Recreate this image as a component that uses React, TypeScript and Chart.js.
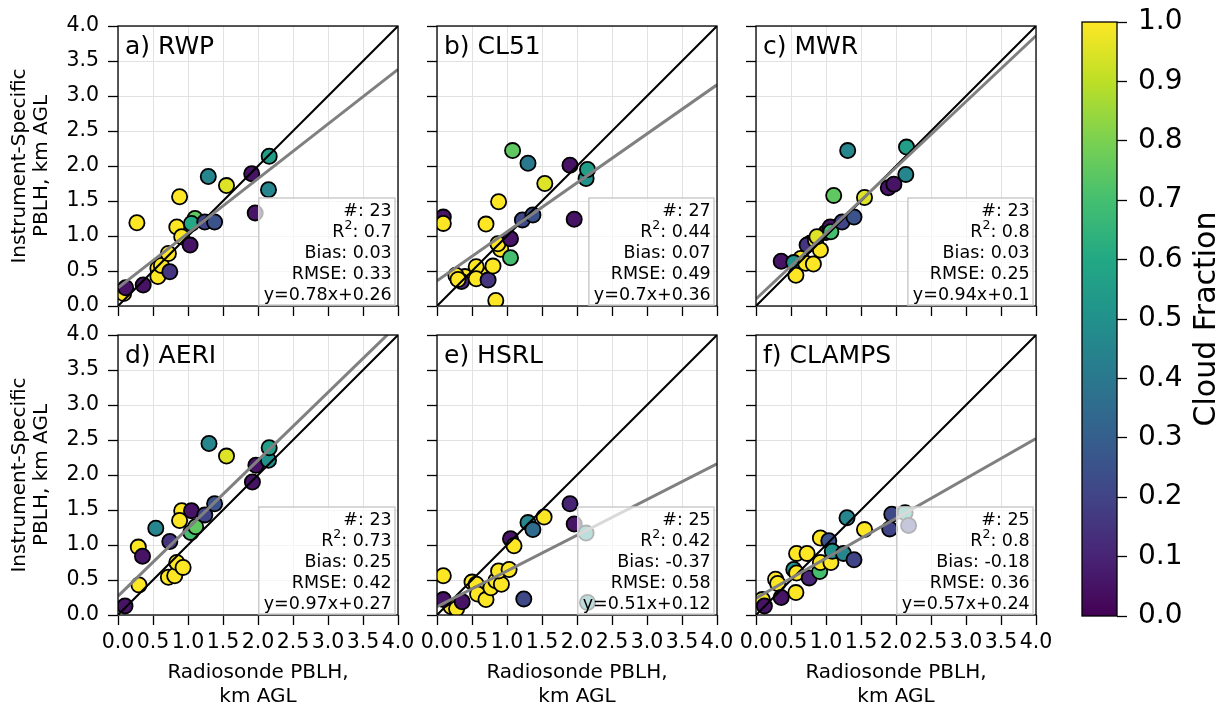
import React, { useEffect, useRef } from 'react';
import { Chart, registerables } from 'chart.js';

Chart.register(...registerables);

const FONT = '"DejaVu Sans", "Liberation Sans", sans-serif';

// ---------------- data ----------------
const panelLabels = ['a) RWP', 'b) CL51', 'c) MWR', 'd) AERI', 'e) HSRL', 'f) CLAMPS'];

const rwpX = [0.08, 0.11, 0.36, 0.27, 0.57, 0.57, 0.62, 0.74, 0.72, 0.88, 0.84, 0.91, 1.03, 1.10, 1.05, 1.24, 1.38, 1.29, 1.55, 1.91, 1.96, 2.16, 2.15];
const rwpY = [0.18, 0.26, 0.30, 1.19, 0.54, 0.42, 0.58, 0.49, 0.75, 1.56, 1.13, 0.99, 0.87, 1.25, 1.18, 1.20, 1.20, 1.85, 1.72, 1.89, 1.33, 2.14, 1.66];
const rwpCF = [1.0, 0.05, 0.05, 1.0, 1.0, 1.0, 1.0, 0.15, 1.0, 1.0, 1.0, 1.0, 0.05, 0.75, 0.6, 0.2, 0.25, 0.45, 0.95, 0.05, 0.05, 0.55, 0.45];

const cl51X = [0.62, 0.40, 0.09, 0.09, 0.27, 0.35, 0.30, 0.56, 0.56, 0.73, 0.70, 0.80, 0.84, 0.88, 0.91, 0.87, 1.05, 1.05, 1.08, 1.30, 1.22, 1.37, 1.54, 1.90, 1.96, 2.13, 2.15];
const cl51Y = [0.45, 0.42, 1.27, 1.18, 0.44, 0.35, 0.38, 0.56, 0.39, 0.37, 1.17, 0.57, 0.08, 1.49, 0.81, 0.89, 0.96, 0.69, 2.22, 2.04, 1.23, 1.30, 1.75, 2.01, 1.24, 1.82, 1.95];
const cl51CF = [1.0, 1.0, 0.05, 1.0, 1.0, 0.1, 1.0, 1.0, 1.0, 0.15, 1.0, 1.0, 1.0, 1.0, 1.0, 1.0, 0.05, 0.7, 0.75, 0.4, 0.22, 0.25, 0.95, 0.05, 0.05, 0.5, 0.55];

const mwrX = [0.64, 0.78, 1.00, 0.36, 0.54, 0.57, 0.71, 0.73, 0.82, 0.85, 0.92, 0.87, 1.06, 1.07, 1.11, 1.23, 1.40, 1.31, 1.55, 1.89, 1.97, 2.14, 2.15];
const mwrY = [0.68, 0.90, 1.05, 0.64, 0.62, 0.44, 0.61, 0.87, 0.60, 0.94, 0.80, 0.99, 1.13, 1.06, 1.58, 1.20, 1.27, 2.22, 1.55, 1.69, 1.74, 1.88, 2.27];
const mwrCF = [1.0, 1.0, 0.05, 0.05, 0.5, 1.0, 1.0, 0.15, 1.0, 1.0, 1.0, 0.95, 0.05, 0.7, 0.75, 0.2, 0.25, 0.45, 0.95, 0.05, 0.05, 0.45, 0.55];

const aeriX = [0.10, 0.29, 0.35, 0.30, 0.54, 0.74, 0.72, 0.81, 0.84, 0.93, 0.91, 0.88, 1.05, 1.04, 1.11, 1.24, 1.38, 1.30, 1.55, 1.92, 1.97, 2.15, 2.16];
const aeriY = [0.13, 0.97, 0.84, 0.43, 1.24, 1.05, 0.54, 0.56, 0.75, 0.68, 1.49, 1.35, 1.49, 1.18, 1.26, 1.43, 1.59, 2.45, 2.27, 1.90, 2.14, 2.21, 2.39];
const aeriCF = [0.05, 1.0, 0.05, 1.0, 0.45, 0.15, 1.0, 1.0, 1.0, 1.0, 1.0, 1.0, 0.05, 0.7, 0.75, 0.2, 0.25, 0.45, 0.95, 0.05, 0.05, 0.5, 0.55];

const hsrlX = [0.62, 0.50, 0.20, 0.09, 0.09, 0.28, 0.36, 0.56, 0.58, 0.70, 0.77, 0.84, 0.92, 0.88, 1.03, 1.05, 1.10, 1.24, 1.30, 1.37, 1.53, 1.90, 1.96, 2.13, 2.15];
const hsrlY = [0.35, 0.47, 0.12, 0.56, 0.22, 0.09, 0.19, 0.44, 0.30, 0.22, 0.39, 0.49, 0.44, 0.63, 0.65, 1.09, 0.99, 0.23, 1.32, 1.22, 1.40, 1.59, 1.30, 1.17, 0.18];
const hsrlCF = [1.0, 1.0, 1.0, 1.0, 0.05, 1.0, 0.05, 1.0, 1.0, 1.0, 1.0, 1.0, 1.0, 1.0, 1.0, 0.05, 1.0, 0.22, 0.45, 0.35, 1.0, 0.1, 0.05, 0.5, 0.5];

const clampsX = [0.09, 0.12, 0.28, 0.31, 0.36, 0.54, 0.58, 0.58, 0.57, 0.73, 0.76, 0.91, 0.92, 0.92, 1.07, 1.04, 1.09, 1.25, 1.40, 1.30, 1.55, 1.91, 1.94, 2.13, 2.18];
const clampsY = [0.22, 0.13, 0.51, 0.45, 0.25, 0.65, 0.60, 0.88, 0.32, 0.88, 0.53, 0.62, 1.10, 0.75, 0.75, 1.06, 0.91, 0.88, 0.79, 1.39, 1.22, 1.23, 1.44, 1.46, 1.28];
const clampsCF = [1.0, 0.05, 1.0, 1.0, 0.05, 0.5, 1.0, 1.0, 1.0, 1.0, 0.1, 0.7, 1.0, 1.0, 1.0, 0.25, 0.5, 0.45, 0.2, 0.45, 1.0, 0.2, 0.22, 0.55, 0.2];

const counts = [23, 27, 23, 23, 25, 25];
const r2Values = ['0.7', '0.44', '0.8', '0.73', '0.42', '0.8'];
const biasValues = ['0.03', '0.07', '0.03', '0.25', '-0.37', '-0.18'];
const rmseValues = ['0.33', '0.49', '0.25', '0.42', '0.58', '0.36'];
const slopes = [0.78, 0.7, 0.94, 0.97, 0.51, 0.57];
const intercepts = [0.26, 0.36, 0.1, 0.27, 0.12, 0.24];

const axisMin = 0;
const axisMax = 4;
const axisStep = 0.5;
const cbMin = 0;
const cbMax = 1;
const cbStep = 0.1;

const xTitle = ['Radiosonde PBLH,', 'km AGL'];
const yTitle = ['Instrument-Specific', 'PBLH, km AGL'];
const cbTitle = 'Cloud Fraction';

const viridisStops = ['#440154', '#482475', '#414487', '#355f8d', '#2a788e', '#21918c', '#22a884', '#44bf70', '#7ad151', '#bddf26', '#fde725'];

const panelX = [rwpX, cl51X, mwrX, aeriX, hsrlX, clampsX];
const panelY = [rwpY, cl51Y, mwrY, aeriY, hsrlY, clampsY];
const panelCF = [rwpCF, cl51CF, mwrCF, aeriCF, hsrlCF, clampsCF];

// ---------------- layout ----------------
const PANEL_LEFTS = [118, 437, 756];
const PANEL_TOPS = [26, 335];
const PANEL = 280;
const YAXIS_W = 118;
const XAXIS_H = 100;
const PAD_TOP = 16;
const PAD_RIGHT = 30;
const CANVAS_W = YAXIS_W + PANEL + PAD_RIGHT;
const CANVAS_H = PAD_TOP + PANEL + XAXIS_H;

function hexToRgb(h: string) {
  return [parseInt(h.slice(1, 3), 16), parseInt(h.slice(3, 5), 16), parseInt(h.slice(5, 7), 16)];
}

function viridis(t: number) {
  const s = Math.max(0, Math.min(1, t)) * 10;
  const i = Math.min(9, Math.floor(s));
  const f = s - i;
  const a = hexToRgb(viridisStops[i]);
  const b = hexToRgb(viridisStops[i + 1]);
  const c = a.map((v, k) => Math.round(v + (b[k] - v) * f));
  return `rgb(${c[0]},${c[1]},${c[2]})`;
}

function drawStats(ctx: CanvasRenderingContext2D, area: any, idx: number) {
  const mainFont = `17.5px ${FONT}`;
  const supFont = `12.5px ${FONT}`;
  ctx.save();
  ctx.font = mainFont;
  const l0 = `#: ${counts[idx]}`;
  const l2 = `Bias: ${biasValues[idx]}`;
  const l3 = `RMSE: ${rmseValues[idx]}`;
  const l4 = `y=${slopes[idx]}x+${intercepts[idx]}`;
  const r2tail = `: ${r2Values[idx]}`;
  const wR = ctx.measureText('R').width;
  const wTail = ctx.measureText(r2tail).width;
  ctx.font = supFont;
  const wSup = ctx.measureText('2').width;
  ctx.font = mainFont;
  const wR2 = wR + wSup + wTail;
  const widths = [ctx.measureText(l0).width, wR2, ctx.measureText(l2).width, ctx.measureText(l3).width, ctx.measureText(l4).width];
  const maxW = Math.max(...widths);
  const textRight = area.right - 6.3;
  const boxRight = area.right - 3;
  const boxLeft = textRight - maxW - 5;
  const boxBottom = area.bottom - 1;
  const boxTop = area.bottom - 108;
  ctx.fillStyle = 'rgba(255,255,255,0.7)';
  ctx.fillRect(boxLeft, boxTop, boxRight - boxLeft, boxBottom - boxTop);
  ctx.strokeStyle = '#cccccc';
  ctx.lineWidth = 1.5;
  ctx.strokeRect(boxLeft, boxTop, boxRight - boxLeft, boxBottom - boxTop);

  ctx.fillStyle = '#000';
  ctx.textBaseline = 'middle';
  const centers = [95, 74, 53, 32, 11].map((d) => area.bottom - d);
  ctx.textAlign = 'right';
  ctx.fillText(l0, textRight, centers[0]);
  ctx.fillText(l2, textRight, centers[2]);
  ctx.fillText(l3, textRight, centers[3]);
  ctx.fillText(l4, textRight, centers[4]);
  // R^2 line
  ctx.textAlign = 'left';
  let x = textRight - wR2;
  ctx.fillText('R', x, centers[1]);
  x += wR;
  ctx.font = supFont;
  ctx.fillText('2', x, centers[1] - 6);
  x += wSup;
  ctx.font = mainFont;
  ctx.fillText(r2tail, x, centers[1]);
  ctx.restore();
}

function Panel({ idx }: { idx: number }) {
  const ref = useRef<HTMLCanvasElement>(null);
  const row = Math.floor(idx / 3);
  const col = idx % 3;
  useEffect(() => {
    const xs = panelX[idx];
    const ys = panelY[idx];
    const cf = panelCF[idx];
    const pts = xs.map((x, i) => ({ x, y: ys[i] }));
    const colors = cf.map(viridis);
    const m = slopes[idx];
    const b = intercepts[idx];
    const fitPts = [
      { x: axisMin, y: m * axisMin + b },
      { x: axisMax, y: m * axisMax + b },
    ];
    const onePts = [
      { x: axisMin, y: axisMin },
      { x: axisMax, y: axisMax },
    ];
    const showX = row === 1;
    const showY = col === 0;
    const fmt = (v: any) => Number(v).toFixed(1);
    const gridOpts = { color: '#e2e2e2', lineWidth: 1, tickColor: '#000', tickLength: 10, tickWidth: 1.3, drawTicks: true };

    const framePlugin = {
      id: 'frame' + idx,
      afterDatasetsDraw(chart: any) {
        const { ctx, chartArea: a } = chart;
        ctx.save();
        ctx.strokeStyle = '#000';
        ctx.lineWidth = 1.3;
        ctx.strokeRect(a.left, a.top, a.right - a.left, a.bottom - a.top);
        ctx.fillStyle = '#000';
        ctx.font = `25px ${FONT}`;
        ctx.textAlign = 'left';
        ctx.textBaseline = 'alphabetic';
        ctx.fillText(panelLabels[idx], a.left + 7, a.top + 28);
        ctx.restore();
        drawStats(ctx, a, idx);
      },
    };

    const chart = new Chart(ref.current as HTMLCanvasElement, {
      type: 'scatter',
      data: {
        datasets: [
          { type: 'line', data: fitPts, borderColor: '#808080', borderWidth: 3, pointRadius: 0, fill: false, order: 0 } as any,
          { type: 'line', data: onePts, borderColor: '#000000', borderWidth: 2, pointRadius: 0, fill: false, order: 1 } as any,
          { type: 'scatter', data: pts, backgroundColor: colors, borderColor: '#000', borderWidth: 1.8, pointRadius: 7.6, order: 2 } as any,
        ],
      },
      options: {
        animation: false,
        responsive: false,
        events: [],
        layout: { padding: { top: PAD_TOP, right: PAD_RIGHT, left: 0, bottom: 0 } },
        plugins: { legend: { display: false }, tooltip: { enabled: false } },
        scales: {
          x: {
            type: 'linear',
            min: axisMin,
            max: axisMax,
            ticks: { stepSize: axisStep, display: showX, callback: fmt, color: '#000', font: { family: FONT, size: 20.5 }, padding: 5, maxRotation: 0, minRotation: 0, autoSkip: false },
            grid: gridOpts,
            border: { display: false },
            title: { display: showX, text: xTitle, color: '#000', font: { family: FONT, size: 20, lineHeight: 1.2 }, padding: { top: 0, bottom: 6 } },
            afterFit: (s: any) => {
              s.height = XAXIS_H;
              s.paddingLeft = 0;
              s.paddingRight = 0;
            },
          },
          y: {
            type: 'linear',
            position: 'left',
            min: axisMin,
            max: axisMax,
            ticks: { stepSize: axisStep, display: showY, callback: fmt, color: '#000', font: { family: FONT, size: 20.5 }, padding: 9, autoSkip: false },
            grid: gridOpts,
            border: { display: false },
            title: { display: showY, text: yTitle, color: '#000', font: { family: FONT, size: 20, lineHeight: 1.1 }, padding: { top: 9, bottom: 0 } },
            afterFit: (s: any) => {
              s.width = YAXIS_W;
              s.paddingTop = 0;
              s.paddingBottom = 0;
            },
          },
        },
      } as any,
      plugins: [framePlugin],
    });
    return () => chart.destroy();
  }, []);
  const left = PANEL_LEFTS[col] - YAXIS_W;
  const top = PANEL_TOPS[row] - PAD_TOP;
  return (
    <canvas
      ref={ref}
      width={CANVAS_W}
      height={CANVAS_H}
      style={{ position: 'absolute', left, top, width: CANVAS_W, height: CANVAS_H }}
    />
  );
}

const CB_LEFT = 1040;
const CB_W = 187;
const CB_H = 711;

function ColorBar() {
  const ref = useRef<HTMLCanvasElement>(null);
  useEffect(() => {
    const cbPlugin = {
      id: 'cb',
      beforeDatasetsDraw(chart: any) {
        const { ctx, chartArea: a } = chart;
        ctx.save();
        const g = ctx.createLinearGradient(0, a.bottom, 0, a.top);
        viridisStops.forEach((c, k) => g.addColorStop(k / (viridisStops.length - 1), c));
        ctx.fillStyle = g;
        ctx.fillRect(a.left, a.top, a.right - a.left, a.bottom - a.top);
        ctx.strokeStyle = '#000';
        ctx.lineWidth = 1.3;
        ctx.strokeRect(a.left, a.top, a.right - a.left, a.bottom - a.top);
        ctx.restore();
      },
      afterDraw(chart: any) {
        const { ctx, chartArea: a } = chart;
        ctx.save();
        ctx.translate(167, (a.top + a.bottom) / 2);
        ctx.rotate(-Math.PI / 2);
        ctx.font = `30px ${FONT}`;
        ctx.fillStyle = '#000';
        ctx.textAlign = 'center';
        ctx.textBaseline = 'middle';
        ctx.fillText(cbTitle, 0, 0);
        ctx.restore();
      },
    };
    const chart = new Chart(ref.current as HTMLCanvasElement, {
      type: 'scatter',
      data: { datasets: [{ data: [] }] },
      options: {
        animation: false,
        responsive: false,
        events: [],
        layout: { padding: { top: 22, left: 42, right: 0, bottom: 95 } },
        plugins: { legend: { display: false }, tooltip: { enabled: false } },
        scales: {
          x: { type: 'linear', display: false, min: 0, max: 1 },
          y: {
            type: 'linear',
            position: 'right',
            min: cbMin,
            max: cbMax,
            ticks: { stepSize: cbStep, callback: (v: any) => Number(v).toFixed(1), color: '#000', font: { family: FONT, size: 28 }, padding: 11, autoSkip: false },
            grid: { drawOnChartArea: false, tickColor: '#000', tickLength: 10, tickWidth: 1.3 },
            border: { display: false },
            afterFit: (s: any) => {
              s.width = 110;
              s.paddingTop = 0;
              s.paddingBottom = 0;
            },
          },
        },
      } as any,
      plugins: [cbPlugin],
    });
    return () => chart.destroy();
  }, []);
  return (
    <canvas
      ref={ref}
      width={CB_W}
      height={CB_H}
      style={{ position: 'absolute', left: CB_LEFT, top: 0, width: CB_W, height: CB_H }}
    />
  );
}

export default function App() {
  return (
    <div style={{ position: 'fixed', left: 0, top: 0, width: 1227, height: 711, background: '#ffffff', overflow: 'hidden' }}>
      {[0, 1, 2, 3, 4, 5].map((i) => (
        <Panel key={i} idx={i} />
      ))}
      <ColorBar />
    </div>
  );
}
